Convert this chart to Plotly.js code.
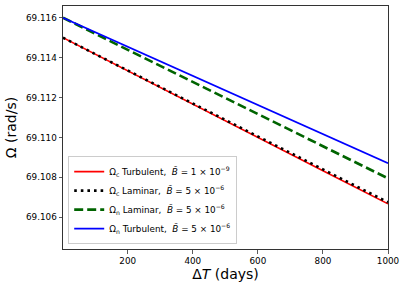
<!DOCTYPE html>
<html>
<head>
<meta charset="utf-8">
<script src="https://cdn.plot.ly/plotly-3.0.1.min.js"></script>
<style>html,body{margin:0;padding:0;background:#fff;}#chart{width:407px;height:290px;}</style>
</head>
<body>
<div id="chart"></div>
<script>
// Data
const days = [1, 200, 400, 600, 800, 1000];
const omegaCTurbulent = [69.11500, 69.11333, 69.11167, 69.11000, 69.10833, 69.10667];
const omegaCLaminar   = [69.11500, 69.11335, 69.11170, 69.11005, 69.10840, 69.10675];
const omegaNLaminar   = [69.11600, 69.11439, 69.11278, 69.11117, 69.10956, 69.10795];
const omegaNTurbulent = [69.11600, 69.11454, 69.11308, 69.11163, 69.11017, 69.10871];
const seriesNames = [
  "Ω<sub>c</sub> Turbulent,  <i>B\u0303</i> = 1 × 10<sup>−9</sup>",
  "Ω<sub>c</sub> Laminar,  <i>B\u0303</i> = 5 × 10<sup>−6</sup>",
  "Ω<sub>n</sub> Laminar,  <i>B\u0303</i> = 5 × 10<sup>−6</sup>",
  "Ω<sub>n</sub> Turbulent,  <i>B\u0303</i> = 5 × 10<sup>−6</sup>"
];
const yTicks = [69.106, 69.108, 69.110, 69.112, 69.114, 69.116];
const xTicks = [200, 400, 600, 800, 1000];

const traces = [
  {x: days, y: omegaCTurbulent, name: seriesNames[0], mode: 'lines', line: {color: '#ff0000', width: 1.6}},
  {x: days, y: omegaCLaminar, name: seriesNames[1], mode: 'lines', line: {color: '#000000', width: 2.6, dash: '2.6px,4px'}},
  {x: days, y: omegaNLaminar, name: seriesNames[2], mode: 'lines', line: {color: '#006400', width: 2.6, dash: '9px,4px'}},
  {x: days, y: omegaNTurbulent, name: seriesNames[3], mode: 'lines', line: {color: '#0000ff', width: 1.6}}
];

const font = {family: 'DejaVu Sans', size: 8.8, color: '#000'};
const layout = {
  width: 407, height: 290,
  margin: {l: 62.5, r: 18.5, t: 6, b: 41},
  paper_bgcolor: '#fff', plot_bgcolor: '#fff',
  font: font,
  showlegend: true,
  legend: {
    x: 0.016, y: 0.02, xanchor: 'left', yanchor: 'bottom',
    bgcolor: 'rgba(255,255,255,0.8)', bordercolor: '#cccccc', borderwidth: 1,
    font: {family: 'DejaVu Sans', size: 8.8, color: '#000'},
    tracegroupgap: 0, itemwidth: 30
  },
  xaxis: {
    range: [1, 1000], tickvals: xTicks, ticktext: xTicks.map(String),
    showgrid: false, zeroline: false,
    showline: true, linecolor: '#333', linewidth: 1, mirror: true,
    ticks: 'outside', ticklen: 3.5, tickcolor: '#333', tickwidth: 0.8,
    title: {text: 'Δ<i>T</i> (days)', font: {family: 'DejaVu Sans', size: 14, color: '#000'}, standoff: 4},
    automargin: false
  },
  yaxis: {
    range: [69.10441, 69.11659], tickvals: yTicks, ticktext: yTicks.map(v => v.toFixed(3)),
    showgrid: false, zeroline: false,
    showline: true, linecolor: '#333', linewidth: 1, mirror: true,
    ticks: 'outside', ticklen: 3.5, tickcolor: '#333', tickwidth: 0.8,
    title: {text: 'Ω (rad/s)', font: {family: 'DejaVu Sans', size: 14, color: '#000'}, standoff: 6},
    automargin: false
  }
};

Plotly.newPlot('chart', traces, layout, {displayModeBar: false, staticPlot: true});
</script>
</body>
</html>
